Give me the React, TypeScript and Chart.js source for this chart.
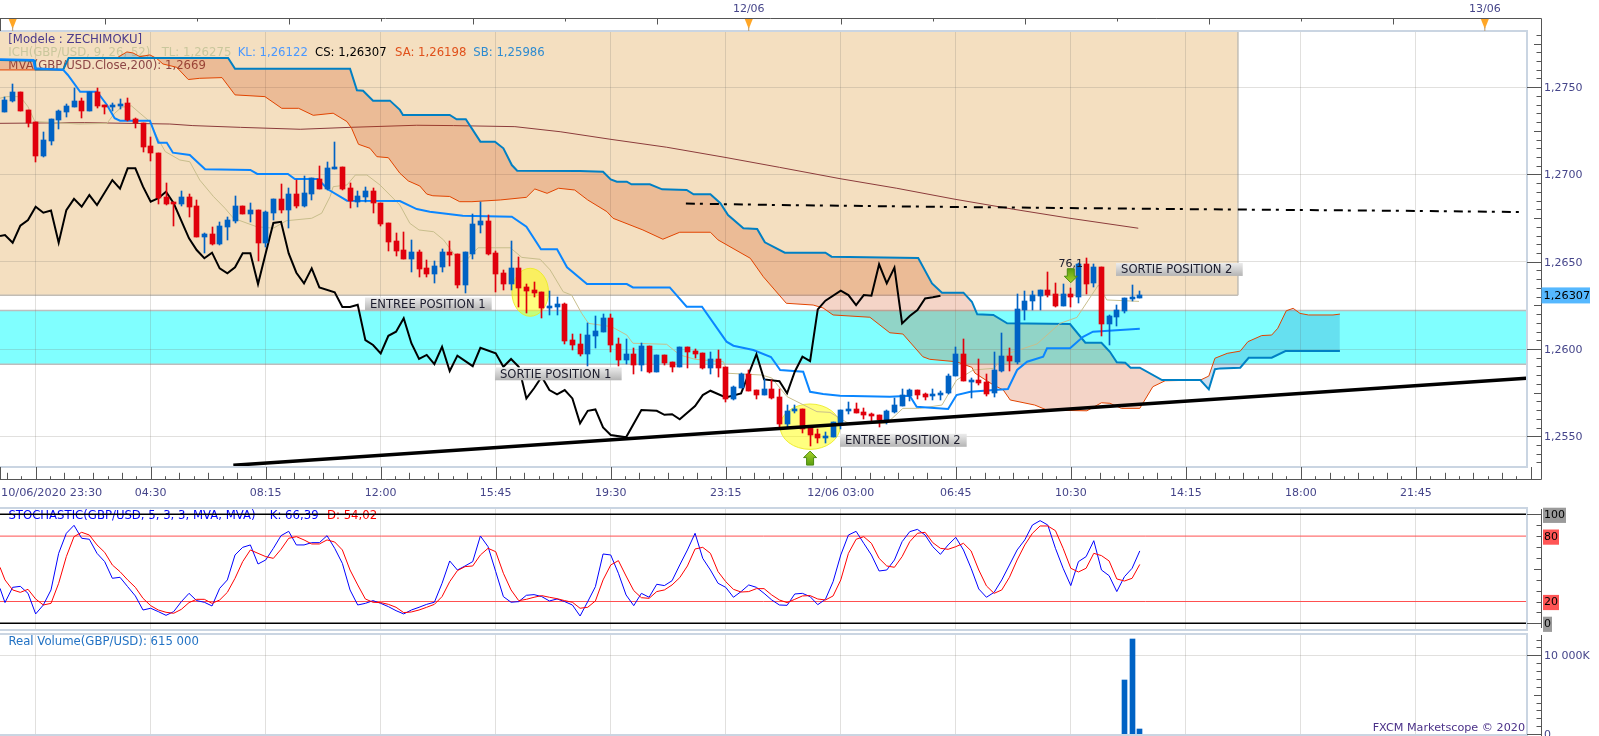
import React, { useEffect, useRef } from 'react';
import { Chart, registerables } from 'chart.js';
Chart.register(...registerables);

const FONT = '"DejaVu Sans"';
const AXIS_COLOR = '#45458a';
const BLUE = '#0062c4';
const RED = '#e0000c';

const opens = [1.2736,1.27421,1.27471,1.2737,1.27299,1.27106,1.27194,1.27312,1.27358,1.27385,1.27421,1.27364,1.27475,1.27396,1.27389,1.27396,1.27408,1.27316,1.27293,1.27163,1.27121,1.26873,1.26841,1.26833,1.26871,1.2682,1.26644,1.26657,1.26602,1.26699,1.26732,1.26822,1.26774,1.26797,1.2661,1.26781,1.26858,1.26797,1.26886,1.2682,1.26888,1.26974,1.26915,1.27034,1.27043,1.26921,1.26844,1.26873,1.26906,1.26835,1.2672,1.26621,1.26568,1.26516,1.26558,1.26463,1.2643,1.2647,1.26553,1.26545,1.26367,1.26545,1.26713,1.26734,1.26549,1.26436,1.26373,1.26463,1.26356,1.26339,1.26327,1.26236,1.26243,1.26258,1.26052,1.26029,1.25972,1.26075,1.26098,1.26178,1.26031,1.25938,1.25972,1.25909,1.2602,1.25871,1.25966,1.25926,1.25899,1.2601,1.25989,1.25978,1.25894,1.25943,1.25899,1.25716,1.25777,1.25857,1.25766,1.25737,1.2577,1.25724,1.25571,1.25645,1.25654,1.25555,1.25513,1.25492,1.25498,1.25578,1.25647,1.25654,1.25637,1.25628,1.25622,1.25593,1.25639,1.25675,1.25731,1.25763,1.25742,1.25729,1.25738,1.25746,1.25845,1.25971,1.25817,1.25823,1.25811,1.25746,1.25876,1.2596,1.25928,1.26224,1.26273,1.26306,1.26338,1.26315,1.26248,1.26315,1.263,1.26487,1.26376,1.26468,1.26145,1.26185,1.2622,1.26287,1.26294];
const closes = [1.27427,1.27471,1.27366,1.27293,1.27108,1.27198,1.27316,1.27364,1.27391,1.27421,1.27366,1.27475,1.27395,1.27391,1.27396,1.27406,1.27312,1.27293,1.2716,1.27121,1.26864,1.26831,1.26835,1.26871,1.26816,1.26644,1.26657,1.26602,1.26703,1.26739,1.2682,1.26774,1.26797,1.2661,1.26787,1.26858,1.26797,1.26888,1.2682,1.26896,1.26978,1.26917,1.27035,1.27045,1.26917,1.26848,1.26877,1.26906,1.26835,1.26716,1.26615,1.26564,1.26516,1.26558,1.26459,1.2643,1.26476,1.26553,1.26541,1.26365,1.26553,1.26717,1.26734,1.26545,1.2643,1.26373,1.26463,1.26352,1.26333,1.26322,1.26236,1.26247,1.26258,1.26046,1.26024,1.25972,1.26081,1.26104,1.2618,1.26024,1.25938,1.25972,1.25909,1.2602,1.25871,1.25966,1.2592,1.25897,1.26012,1.25985,1.25974,1.25894,1.25941,1.25894,1.25716,1.25781,1.25856,1.25762,1.25737,1.2577,1.2572,1.25571,1.25647,1.25659,1.25542,1.25509,1.2549,1.255,1.25584,1.25649,1.25654,1.25635,1.25622,1.2562,1.25593,1.25645,1.25679,1.25737,1.25765,1.25735,1.25727,1.25744,1.25746,1.25845,1.25971,1.25819,1.25823,1.25807,1.25742,1.2588,1.2596,1.25929,1.26227,1.26275,1.2631,1.26338,1.2631,1.26247,1.26315,1.263,1.26485,1.26373,1.26468,1.26145,1.26187,1.26224,1.2629,1.26296,1.26307];
const highs = [1.27446,1.27519,1.27471,1.2737,1.27299,1.27242,1.27316,1.2737,1.27404,1.27494,1.27437,1.27475,1.27494,1.27396,1.2741,1.27433,1.27437,1.27322,1.27293,1.27213,1.27121,1.2695,1.26841,1.26904,1.26888,1.26854,1.26667,1.26701,1.26726,1.26759,1.26877,1.26822,1.26835,1.26797,1.26793,1.26858,1.26946,1.26921,1.26969,1.26993,1.26978,1.27049,1.2707,1.27184,1.27045,1.2695,1.26906,1.2693,1.26921,1.26839,1.2672,1.26663,1.26673,1.26625,1.26568,1.26511,1.26505,1.26572,1.26619,1.26545,1.26553,1.26774,1.26841,1.26768,1.26562,1.26453,1.26619,1.26526,1.26371,1.26386,1.26329,1.26333,1.26297,1.26262,1.26087,1.26087,1.26148,1.2619,1.26199,1.26199,1.26062,1.26056,1.26004,1.26033,1.2602,1.25966,1.25966,1.25928,1.26012,1.26012,1.26001,1.2598,1.25983,1.25995,1.25899,1.25789,1.25861,1.2588,1.25766,1.25827,1.25823,1.2577,1.2568,1.2568,1.25654,1.25555,1.2554,1.25526,1.25584,1.25651,1.25695,1.25689,1.2566,1.25632,1.25622,1.25651,1.25721,1.25769,1.25769,1.25765,1.2575,1.25769,1.25761,1.25857,1.2601,1.26056,1.25832,1.25941,1.25855,1.25981,1.2609,1.26004,1.26313,1.26332,1.26334,1.26338,1.26443,1.26376,1.26371,1.26348,1.26491,1.2652,1.26487,1.26468,1.26195,1.26252,1.2629,1.26367,1.26332];
const lows = [1.2736,1.27417,1.27366,1.27274,1.27074,1.27098,1.27169,1.27261,1.27328,1.27385,1.27326,1.27362,1.27379,1.27347,1.27364,1.27377,1.27309,1.27267,1.27131,1.27079,1.26831,1.26825,1.26705,1.2682,1.26758,1.26644,1.26552,1.26596,1.26596,1.26625,1.26724,1.26774,1.2673,1.26506,1.26587,1.26739,1.26778,1.26692,1.26806,1.26816,1.26854,1.26915,1.26911,1.27034,1.26911,1.2681,1.26816,1.26844,1.26778,1.26705,1.26564,1.26535,1.26516,1.26444,1.26415,1.26415,1.26377,1.26444,1.26476,1.26348,1.26323,1.26516,1.26663,1.26539,1.26329,1.26339,1.26339,1.26239,1.26209,1.26297,1.2618,1.26195,1.26195,1.26029,1.25995,1.25962,1.25903,1.26008,1.26098,1.25985,1.25903,1.25915,1.25857,1.25876,1.25861,1.25871,1.25909,1.25871,1.25899,1.25894,1.25951,1.25886,1.25857,1.25842,1.25699,1.25708,1.25775,1.25762,1.25716,1.25737,1.25714,1.25546,1.25546,1.25632,1.25517,1.25444,1.2546,1.2546,1.25494,1.2554,1.25628,1.25632,1.25601,1.25574,1.25551,1.2557,1.25632,1.25674,1.25704,1.25712,1.25708,1.25708,1.25708,1.25742,1.25845,1.25819,1.25717,1.25794,1.25733,1.25723,1.2587,1.25876,1.25912,1.26166,1.26224,1.26224,1.263,1.26239,1.26248,1.26243,1.26262,1.26315,1.26357,1.26077,1.26023,1.26132,1.26205,1.26277,1.2629];

const senkouB = [[-0.65,1.27656],[3.9,1.27652],[4,1.27601],[7.6,1.27601],[8.3,1.27668],[29.1,1.27668],[30,1.27606],[45,1.27606],[45.9,1.27482],[46.7,1.2748],[48,1.27423],[50.2,1.27423],[51.5,1.2737],[51.9,1.27341],[58,1.27341],[58.9,1.27316],[60.1,1.27316],[62,1.27188],[63.9,1.27188],[65,1.2715],[66.1,1.27054],[66.8,1.27022],[75,1.2702],[78,1.27016],[79,1.26972],[79.8,1.26959],[81.1,1.26959],[81.7,1.26944],[84.1,1.26944],[85.7,1.26915],[88.9,1.26911],[89.8,1.26886],[92,1.26886],[93.3,1.26835],[94.3,1.26768],[96.3,1.26692],[98.1,1.26688],[99.1,1.26611],[101.7,1.26552],[107,1.26552],[107.8,1.26529],[119.1,1.26521],[120.9,1.26376],[122.2,1.26323],[125,1.26323],[126.1,1.26271],[126.8,1.26199],[128.9,1.26195],[130.7,1.26147],[138.9,1.26143],[140.9,1.26036],[143,1.26036],[144.1,1.25984],[145,1.25924],[146.1,1.25921],[146.8,1.25893],[148,1.25893],[150.9,1.25822],[155.9,1.25822],[157,1.25769],[157.8,1.25884],[158.5,1.25889],[161.1,1.25893],[162.2,1.2595],[165.2,1.2595],[167,1.25988],[174.1,1.25988]];
const senkouA = [[-0.65,1.27599],[7.6,1.27599],[8.3,1.27668],[14.6,1.27668],[15.9,1.27702],[16.7,1.27696],[17.6,1.27675],[18.9,1.27685],[19.8,1.27664],[20.6,1.27633],[22.4,1.27614],[23.9,1.27544],[25.4,1.27551],[28.3,1.27555],[30,1.27456],[33.9,1.27446],[36.1,1.27379],[38.3,1.27379],[40.2,1.27339],[42.8,1.27351],[44.6,1.27303],[45.2,1.27265],[46.1,1.27173],[47.6,1.2715],[48.5,1.27102],[50,1.27096],[51.5,1.27007],[52.6,1.26963],[54.1,1.26934],[55,1.26888],[55.8,1.26878],[58,1.26874],[59.3,1.26844],[60.9,1.26844],[64.6,1.26854],[68,1.26869],[69.1,1.26917],[70.7,1.26892],[72.2,1.26921],[74.3,1.26911],[76,1.26854],[78.5,1.26787],[79.3,1.26749],[83.2,1.26682],[85.8,1.26629],[88,1.26669],[92,1.26669],[93,1.26625],[97.2,1.2652],[98.9,1.26414],[101.9,1.26262],[105.4,1.26252],[106.7,1.26235],[108,1.26195],[112.8,1.26182],[115.4,1.26093],[117.1,1.26086],[119.7,1.25956],[120.6,1.25941],[124.1,1.25927],[126.1,1.25895],[126.5,1.25862],[128.9,1.25794],[130.2,1.25765],[131.1,1.25708],[134.3,1.25679],[135.9,1.2565],[141.1,1.25646],[143,1.25692],[144.1,1.25689],[145.6,1.2566],[148,1.2566],[149.7,1.25784],[151.3,1.25818],[155.9,1.25822],[157,1.25845],[157.8,1.25947],[159.4,1.25975],[161.1,1.25988],[162.1,1.26042],[163.9,1.26077],[165.2,1.2608],[166,1.26119],[167.1,1.26219],[168,1.26233],[168.9,1.26204],[170,1.26195],[173.2,1.26195],[174.1,1.262]];
const kijun = [[-0.65,1.2766],[3.7,1.27656],[3.9,1.27609],[7.6,1.27599],[8.2,1.2757],[9.8,1.27474],[12,1.27474],[13.3,1.27398],[14.3,1.27322],[15,1.27308],[18.9,1.27308],[20,1.27182],[21.1,1.27182],[21.9,1.27125],[24.1,1.27112],[26.1,1.2703],[32,1.27026],[32.9,1.27003],[36.9,1.27003],[37.8,1.26974],[40.8,1.26974],[42.1,1.26915],[44.6,1.2685],[51.5,1.26848],[53.7,1.26802],[55.4,1.26787],[59.7,1.26764],[66.1,1.26758],[68,1.26701],[69.9,1.26571],[72,1.26571],[73.3,1.26468],[75.9,1.26372],[81.1,1.26372],[81.9,1.26353],[86.7,1.26353],[88.9,1.26242],[90.9,1.26242],[94.1,1.26042],[95,1.26019],[97.6,1.25994],[99.9,1.25954],[101.1,1.2588],[104.1,1.2587],[105,1.25755],[106.7,1.25742],[108.9,1.25732],[115.4,1.25727],[118,1.25732],[118.9,1.25669],[123,1.25656],[124.1,1.25736],[125.9,1.25755],[130.8,1.25771],[132,1.2588],[133.3,1.25927],[135.4,1.25956],[135.9,1.26004],[138.9,1.26004],[140.6,1.2607],[141.9,1.26099],[148,1.26116]];
const chikou = [[-0.65,1.26647],[0,1.26653],[1,1.26609],[2,1.26707],[3,1.26739],[4,1.26815],[5,1.26781],[6,1.26793],[7,1.26609],[8,1.26796],[9,1.2686],[10,1.26815],[11,1.26882],[12,1.26825],[14,1.26968],[15,1.26919],[16,1.27035],[17,1.27035],[18,1.2693],[19,1.26844],[20,1.26864],[21,1.26901],[22,1.26835],[24,1.26634],[25,1.26567],[26,1.2652],[27,1.26552],[28,1.26462],[29,1.26434],[30,1.26468],[31,1.26548],[32,1.26548],[33,1.26372],[34,1.26548],[35,1.26722],[36,1.26729],[37,1.26548],[38,1.26437],[39,1.26376],[40,1.26462],[41,1.26353],[43,1.26325],[44,1.26241],[45,1.26241],[46,1.26254],[47,1.26051],[48,1.26023],[49,1.25975],[50,1.26076],[51,1.26099],[52,1.26176],[53,1.26033],[54,1.25943],[55,1.25966],[56,1.25914],[57,1.26013],[58,1.25874],[59,1.25962],[61,1.25902],[62,1.26007],[64,1.25975],[65,1.25898],[66,1.25943],[67,1.25898],[68,1.25717],[69,1.25775],[70,1.25841],[71,1.25765],[72,1.2574],[73,1.25765],[74,1.25717],[75,1.25574],[76,1.25646],[77,1.25654],[78,1.25551],[79,1.25507],[81,1.25494],[83,1.2565],[85,1.25646],[86,1.25623],[87,1.25626],[88,1.25597],[90,1.25673],[91,1.25736],[92,1.25761],[94,1.25723],[96,1.25746],[98,1.2597],[99,1.25826],[101,1.25815],[102,1.25746],[103,1.2587],[104,1.25956],[105,1.25931],[106,1.26227],[107,1.26277],[109,1.26334],[110,1.26309],[111,1.26252],[112,1.26309],[113,1.26305],[114,1.26485],[115,1.26376],[116,1.26466],[117,1.26147],[118,1.26189],[119,1.26223],[120,1.2629],[121,1.26296],[122,1.26305]];
const tenkan = [[-0.65,1.27437],[0.2,1.27446],[2,1.27446],[3,1.27388],[3.9,1.27303],[5.9,1.27299],[9.6,1.27289],[13.3,1.27293],[14.3,1.27351],[15.2,1.27385],[16.5,1.27393],[17.6,1.27351],[18.9,1.27303],[19.8,1.27217],[20.9,1.27131],[22.8,1.27083],[24.1,1.27073],[25.4,1.26968],[27.2,1.26873],[28.7,1.26806],[29.8,1.26749],[32.8,1.26701],[35,1.26692],[36.7,1.26735],[40,1.26749],[41.3,1.26778],[42.4,1.26873],[42.8,1.2693],[44.6,1.2694],[45.7,1.26997],[47.2,1.26997],[48.9,1.2694],[51.5,1.26825],[52.8,1.2672],[54,1.26682],[55.9,1.26672],[57.2,1.26625],[59.3,1.265],[60.2,1.2651],[61.7,1.2658],[65.9,1.2658],[67.4,1.26525],[69.8,1.26514],[71.1,1.26453],[72.8,1.26328],[73.9,1.26309],[75.2,1.26205],[76.1,1.26147],[79.1,1.26128],[81.1,1.2608],[81.9,1.26033],[86.3,1.26027],[88,1.25966],[90,1.25941],[93.7,1.25927],[94.3,1.25861],[98.7,1.25851],[100,1.25834],[102,1.25727],[105.9,1.25641],[107.6,1.25637],[110,1.25574],[115,1.25574],[117.1,1.2566],[119.3,1.2566],[122.2,1.25679],[124.1,1.25822],[126.3,1.2588],[128.9,1.25889],[130.9,1.25975],[134.6,1.26029],[135.9,1.2608],[137.6,1.26147],[139.8,1.26181],[142.6,1.26367],[143.7,1.26281],[147.9,1.26273]];
const ma200 = [[-0.65,1.27293],[10.4,1.27297],[21.5,1.27289],[24.5,1.2728],[30.7,1.2727],[38.5,1.27259],[45,1.2727],[53.7,1.27282],[58.5,1.2728],[66.5,1.27274],[72.4,1.27245],[78.9,1.27202],[86.3,1.27156],[93.9,1.27098],[101,1.27041],[108.9,1.26976],[116.3,1.26921],[123.9,1.26858],[131.5,1.26801],[138.9,1.26749],[147.8,1.26692]];
const trendLine = [[29.78,1.25334],[198.4,1.25832]];
const resistanceLine = [[88.8,1.26833],[101,1.26825],[121,1.26815],[152.6,1.26802],[184.6,1.26791],[197.6,1.26785]];

const stochK = [32.1,19,33,33.9,27.5,8.6,16.8,30.6,64.2,82.6,89.9,78,77.1,64.2,56.6,41.3,42.2,33.6,25.1,12.2,13.8,10.7,7.3,10.7,19.9,27.5,20.8,19.3,15.9,32.1,39.8,62.7,69.7,71.9,54.4,58.1,68.8,80.4,84.4,71.9,71.9,74,74,80.4,68.8,55,30.6,16.8,18.3,20.8,18.3,15.3,11.6,8.6,12.2,14.7,17.4,19.3,36.7,57.2,48.9,52.6,56.6,80.1,70.3,47.4,24.5,19.3,19.9,25.7,26.3,24.5,20.5,22.3,19.9,16.8,6.7,19.9,33.6,63.6,62.7,45.9,26,16.2,27.5,23.9,35.8,34.6,39.1,53.5,67.3,82.6,59.6,48.9,36.7,33,23.9,29.1,35.2,33,27.5,21.4,16.8,16.5,26.9,27.5,24.5,17.1,22,38.2,62.7,81,84.4,73.4,62.7,48,48.9,58.1,74.9,84.1,86.2,81,70.3,63.3,71.9,78.9,67.3,50.5,31.5,23.9,28.4,39.8,53.5,67.3,76.5,90.2,94.2,90.2,68.8,50.5,34.6,56.6,61.2,75.8,48.9,43.7,29.1,42.8,50.5,66.39];
const stochD = [51.4,39.8,30.6,28.4,31.2,22.3,16.8,18.3,36.7,61.2,79.5,83.5,81,71.9,65.1,53.5,47.4,39.8,33,22.9,16.2,12.2,10.1,9.2,12.8,19,22,22,18.3,21.4,28.4,41.3,56.6,67.3,64.2,61.2,59.6,67.9,78,79.5,76.5,72.8,72.8,76.5,74.6,67.3,48.9,35.2,22.3,19.3,19,17.4,14.7,9.8,10.4,12.2,14.7,17.4,24.5,38.2,48.3,52,52.6,62.7,68.8,65.7,45.9,30.6,20.8,22,23.9,25.4,23.9,22.6,20.8,19.3,13.8,14.7,20.5,39.8,53.5,57.5,43.4,30,23.5,22.9,29.1,30.6,35.2,41.9,52.6,68.2,69.7,64.2,47.4,38.2,31.2,28.7,29.1,31.8,31.8,26,21.4,19,22,25.1,25.4,22.3,21.4,25.1,39.8,64.2,77.1,79.5,73.4,59.6,52.6,51.4,61.2,74.9,82.6,83.5,74,68.8,67.9,70.3,73.4,66.4,48.9,34.3,27.5,30.6,42.2,58.1,71.9,82.6,89.3,89.3,85,68.8,50.5,47.1,50.5,64.2,62.1,57.2,40.7,38.8,41.3,54.02];
const stochLevels = [100, 80, 20, 0];

const volumeBars = [146, 147, 148];
const volumeValues = [6860000, 12070000, 615000];

const xTicks = [4,19,34,49,64,79,94,109,124,139,154,169,184];
const xLabels = ['','04:30','08:15','12:00','15:45','19:30','23:15','12/06 03:00','06:45','10:30','14:15','18:00','21:45'];
const firstXLabel = '10/06/2020 23:30';
const yTicks = [1.275,1.27,1.265,1.26,1.255];
const dateMarkers = [[1,''],[97,'12/06'],[193,'13/06']];

const beigeZone = { top: 1.27822, bottom: 1.26308, rightIdx: 160.8 };
const cyanZone = { top: 1.2622, bottom: 1.25913 };
const ellipses = [[68.5,1.26325,18.3,24],[105,1.25555,30,22.7]];
const positionLabels = [['ENTREE POSITION 1',46.95,1.26258],['SORTIE POSITION 1',63.9,1.25858],['ENTREE POSITION 2',108.9,1.25477],['SORTIE POSITION 2',144.9,1.26456]];
const arrowUp = [105,1.25375];
const arrowDown = [139,1.2642];
const fibLabel = ['76,1',139,1.26487];
const lastClose = 1.26307;

const X_MIN = -0.652;
const X_MAX = 198.5;
const LEGEND_SIZE = 11.7;
const comma = (v: number) => v.toFixed(4).replace('.', ',');
const pts = (a: number[][]) => a.map(([x, y]) => ({ x, y }));
const series = (a: number[]) => a.map((y, i) => ({ x: i === 0 ? X_MIN : i - 1, y }));

const crispBars = {
  id: 'crispBars',
  afterDatasetsUpdate(chart: any) {
    chart.data.datasets.forEach((ds: any, i: number) => {
      if (ds.type !== 'bar') return;
      chart.getDatasetMeta(i).data.forEach((el: any) => {
        el.x = Math.floor(el.x) + 0.5;
        el.y = Math.round(el.y);
        el.base = Math.round(el.base);
        if (ds.barThickness > 1 && el.base - el.y < 2) el.base = el.y + 2;
      });
    });
  },
};

const line = (c: any, x1: number, y1: number, x2: number, y2: number, color: string, w = 1) => {
  c.strokeStyle = color; c.lineWidth = w; c.beginPath(); c.moveTo(x1, y1); c.lineTo(x2, y2); c.stroke();
};
const text = (c: any, s: string, x: number, y: number, color: string, size = 11, align = 'left') => {
  c.fillStyle = color; c.font = `${size}px ${FONT}`; c.textAlign = align; c.textBaseline = 'middle'; c.fillText(s, x, y);
};

const panelFrame = (drawRight: (c: any, chart: any) => void) => ({
  id: 'panelFrame',
  afterDraw(chart: any) {
    const c = chart.ctx; const a = chart.chartArea;
    c.save();
    c.strokeStyle = '#cad5e2'; c.lineWidth = 2;
    c.beginPath(); c.moveTo(0, a.top); c.lineTo(a.right, a.top); c.lineTo(a.right, a.bottom); c.lineTo(0, a.bottom); c.stroke();
    drawRight(c, chart);
    c.restore();
  },
});

const arrow = (c: any, x: number, y: number, dir: number) => {
  const g = c.createLinearGradient(0, y - 7, 0, y + 7);
  g.addColorStop(0, dir < 0 ? '#a8d428' : '#5a9e10');
  g.addColorStop(1, dir < 0 ? '#5a9e10' : '#a8d428');
  c.fillStyle = g; c.strokeStyle = '#4d8a12'; c.lineWidth = 1;
  c.beginPath();
  c.moveTo(x, y + dir * 7);
  c.lineTo(x + 6.5, y + dir * 0.5);
  c.lineTo(x + 3.5, y + dir * 0.5);
  c.lineTo(x + 3.5, y - dir * 7);
  c.lineTo(x - 3.5, y - dir * 7);
  c.lineTo(x - 3.5, y + dir * 0.5);
  c.lineTo(x - 6.5, y + dir * 0.5);
  c.closePath(); c.fill(); c.stroke();
};

const zonesPlugin = {
  id: 'zones',
  beforeDraw(chart: any) {
    const c = chart.ctx; const a = chart.chartArea; const { x, y } = chart.scales;
    c.save();
    const bT = y.getPixelForValue(beigeZone.top), bB = y.getPixelForValue(beigeZone.bottom), bR = x.getPixelForValue(beigeZone.rightIdx);
    c.fillStyle = '#f4dfc0'; c.fillRect(0, bT, bR, bB - bT);
    line(c, 0, bB, bR, bB, '#c2bdb5', 1.5); line(c, bR, bT, bR, bB, '#c2bdb5', 1.5);
    const cT = y.getPixelForValue(cyanZone.top), cB = y.getPixelForValue(cyanZone.bottom);
    c.fillStyle = '#80ffff'; c.fillRect(0, cT, a.right, cB - cT);
    line(c, 0, cT, a.right, cT, '#bdbdbd', 1.5); line(c, 0, cB, a.right, cB, '#bdbdbd', 1.5);
    c.restore();
  },
  beforeDatasetsDraw(chart: any) {
    const c = chart.ctx; const { x, y } = chart.scales;
    c.save();
    ellipses.forEach(([ix, p, rx, ry]) => {
      c.beginPath(); c.ellipse(x.getPixelForValue(ix), y.getPixelForValue(p), rx, ry, 0, 0, Math.PI * 2);
      c.fillStyle = 'rgba(255,255,0,0.5)'; c.fill();
      c.strokeStyle = 'rgba(235,235,40,0.9)'; c.lineWidth = 1; c.stroke();
    });
    text(c, '[Modele : ZECHIMOKU]', 8.3, 39.5, '#4b3b8c', LEGEND_SIZE);
    text(c, 'ICH(GBP/USD, 9, 26, 52)', 8.3, 52.5, '#c9c79c', LEGEND_SIZE);
    text(c, 'TL: 1,26275', 161.7, 52.5, '#c9c79c', LEGEND_SIZE);
    text(c, 'KL: 1,26122', 237.7, 52.5, '#4a98ff', LEGEND_SIZE);
    text(c, 'CS: 1,26307', 315, 52.5, '#000000', LEGEND_SIZE);
    text(c, 'SA: 1,26198', 395, 52.5, '#e0501a', LEGEND_SIZE);
    text(c, 'SB: 1,25986', 473.3, 52.5, '#2e8bd0', LEGEND_SIZE);
    text(c, 'MVA(GBP/USD.Close,200): 1,2669', 8.3, 65.5, '#8c4646', LEGEND_SIZE);
    c.restore();
  },
  afterDatasetsDraw(chart: any) {
    const c = chart.ctx; const { x, y } = chart.scales;
    c.save();
    positionLabels.forEach(([s, ix, p]: any) => {
      const left = x.getPixelForValue(ix); const cy = y.getPixelForValue(p);
      const g = c.createLinearGradient(0, cy - 6.5, 0, cy + 6.5);
      g.addColorStop(0, '#ececec'); g.addColorStop(1, '#b4b4b4');
      c.fillStyle = g; c.fillRect(left, cy - 6.5, 126.7, 13);
      text(c, s, left + 5, cy + 1, '#1c1c2c', 11.6);
    });
    arrow(c, x.getPixelForValue(arrowUp[0]), y.getPixelForValue(arrowUp[1]), -1);
    arrow(c, x.getPixelForValue(arrowDown[0]), y.getPixelForValue(arrowDown[1]), 1);
    text(c, fibLabel[0] as string, x.getPixelForValue(fibLabel[1]), y.getPixelForValue(fibLabel[2]), '#1c1c2c', 11, 'center');
    c.restore();
  },
};

const mainFrame = panelFrame((c, chart) => {
  const { x, y } = chart.scales;
  const R = 1541.5, D = '#555555';
  line(c, 0, 18.5, R, 18.5, D); line(c, R, 18.5, R, 479.5, D); line(c, 0, 479.5, R, 479.5, D); line(c, 0.5, 18.5, 0.5, 31, D); line(c, 0.5, 467, 0.5, 479.5, D);
  for (let i = 1, k = 0; i < X_MAX + 1; i += 12, k++) {
    const px = Math.round(x.getPixelForValue(i)) + 0.5;
    line(c, px, 18.5, px, 18.5 + (k % 2 === 0 ? 3 : 6), D);
  }
  for (let k = -2; k <= 104; k++) {
    const ix = 4 + k * 1.875; if (ix > 199.1) break;
    const px = Math.round(x.getPixelForValue(ix)) + 0.5;
    const len = k % 8 === 0 ? 12.5 : k % 2 === 0 ? 6.7 : 3.3;
    line(c, px, 479.5 - len, px, 479.5, D);
  }
  for (let n = 0; n * 0.0005 + 1.2535 < 1.2782; n++) {
    const v = 1.2535 + n * 0.0005; const py = Math.round(y.getPixelForValue(v)) + 0.5;
    const len = n % 10 === 3 ? 14.5 : n % 5 === 3 ? 7.5 : 5;
    line(c, R - len, py, R, py, D);
  }
  dateMarkers.forEach(([ix, s]: any) => {
    const px = x.getPixelForValue(ix);
    c.fillStyle = '#ffa626'; c.beginPath(); c.moveTo(px - 4, 19); c.lineTo(px + 4, 19); c.lineTo(px, 29); c.closePath(); c.fill();
    line(c, px, 27, px, 31, '#b89a70');
    if (s) text(c, s, px, 9, AXIS_COLOR, 11, 'center');
  });
  text(c, firstXLabel, 1, 493, AXIS_COLOR, 11.3);
  const py = y.getPixelForValue(lastClose);
  c.fillStyle = '#55b8ff'; c.fillRect(R, py - 8, 48.5, 16);
  text(c, '1,26307', R + 2, py + 0.5, '#000000', 11.3);
});

const stochFrame = panelFrame((c, chart) => {
  const { y } = chart.scales; const R = 1541.5, D = '#555555';
  line(c, R, 3, R, 122, D);
  for (let v = 0; v <= 100; v += 10) {
    const py = Math.round(y.getPixelForValue(v)) + 0.5;
    const len = v === 0 || v === 100 ? 14.5 : v === 50 ? 7.5 : 5;
    line(c, R - len, py, R, py, D);
  }
});
const stochLegend = {
  id: 'stochLegend',
  beforeDatasetsDraw(chart: any) {
    const c = chart.ctx;
    c.save();
    text(c, 'STOCHASTIC(GBP/USD, 5, 3, 3, MVA, MVA)', 8.4, 9.5, '#0000ff', LEGEND_SIZE);
    text(c, 'K: 66,39', 269.8, 9.5, '#0000ff', LEGEND_SIZE);
    text(c, 'D: 54,02', 327, 9.5, '#ff0000', LEGEND_SIZE);
    c.restore();
  },
};

const volFrame = panelFrame((c, chart) => {
  const { y } = chart.scales; const R = 1541.5, D = '#555555';
  line(c, R, 3, R, 104, D);
  for (let v = 0; v <= 12000000; v += 1000000) {
    const py = Math.round(y.getPixelForValue(v)) + 0.5;
    const len = v === 10000000 || v === 0 ? 14.5 : v === 5000000 ? 7.5 : 5;
    line(c, R - len, py, R, py, D);
  }
  text(c, 'Real Volume(GBP/USD): 615 000', 8.4, 9.5, '#2272c4', LEGEND_SIZE);
  text(c, 'FXCM Marketscope \u00a9 2020', 1525, 96.5, '#4a3088', 11.2, 'right');
});

const gridColor = 'rgba(120,112,104,0.22)';
const xScale = (labels: boolean, height?: number) => ({
  type: 'linear', min: X_MIN, max: X_MAX, offset: false,
  grid: { color: gridColor, lineWidth: 1, drawTicks: false, offset: false },
  border: { display: false },
  afterBuildTicks: (s: any) => { s.ticks = xTicks.map((value) => ({ value })); },
  afterFit: (s: any) => { s.height = height ?? 0; s.paddingLeft = 0; s.paddingRight = 0; },
  ticks: {
    display: labels, autoSkip: false, maxRotation: 0, padding: 20, color: AXIS_COLOR,
    font: { family: FONT, size: 11 },
    callback: (_: any, i: number) => xLabels[i],
  },
});
const yScale = (min: number, max: number, ticks: number[], fmt: (v: number) => string, grid: boolean, extra: any = {}) => ({
  position: 'right', min, max,
  grid: { display: grid, color: gridColor, lineWidth: 1, drawTicks: false },
  border: { display: false },
  afterBuildTicks: (s: any) => { s.ticks = ticks.map((value) => ({ value })); },
  afterFit: (s: any) => { s.width = 72; s.paddingTop = 0; s.paddingBottom = 0; },
  ticks: { autoSkip: false, padding: 17, labelOffset: 1, color: AXIS_COLOR, font: { family: FONT, size: 11 }, callback: (v: number) => fmt(v), ...extra },
});
const baseOptions = {
  responsive: false, animation: false, devicePixelRatio: 1, events: [],
  plugins: { legend: { display: false }, tooltip: { enabled: false } },
};
const lineDs = (data: number[][], color: string, width: number, order: number, extra: any = {}) => ({
  type: 'line', data: pts(data), borderColor: color, borderWidth: width, pointRadius: 0, tension: 0, order, fill: false, ...extra,
});

export default function App() {
  const mainRef = useRef<HTMLCanvasElement>(null);
  const stochRef = useRef<HTMLCanvasElement>(null);
  const volRef = useRef<HTMLCanvasElement>(null);

  useEffect(() => {
    const candleColor = closes.map((c, i) => (c >= opens[i] ? BLUE : RED));
    const main = new Chart(mainRef.current as any, {
      type: 'bar',
      data: {
        datasets: [
          lineDs(senkouB, '#0080c4', 2, 7),
          lineDs(senkouA, '#e24400', 1, 8, { fill: { target: 0, above: 'rgba(0,100,180,0.2)', below: 'rgba(205,60,0,0.22)' } }),
          lineDs(kijun, '#0a86ff', 2, 5),
          lineDs(tenkan, '#c8be8c', 1, 6),
          lineDs(chikou, '#000000', 2, 4),
          lineDs(ma200, '#8c3c3c', 1, 9),
          lineDs(trendLine, '#000000', 3.5, 0),
          lineDs(resistanceLine, '#000000', 2, 0, { borderDash: [9, 5, 3, 7] }),
          { type: 'bar', data: highs.map((h, i) => ({ x: i, y: [lows[i], h] })), backgroundColor: candleColor, barThickness: 1, grouped: false, order: 3 },
          { type: 'bar', data: opens.map((o, i) => ({ x: i, y: [Math.min(o, closes[i]), Math.max(o, closes[i])] })), backgroundColor: candleColor, barThickness: 5, grouped: false, order: 2 },
        ],
      },
      options: {
        ...baseOptions,
        layout: { padding: { top: 31, left: 0, right: 0, bottom: 0 } },
        scales: { x: xScale(true, 39), y: yScale(1.25324, 1.27822, yTicks, comma, true) },
      },
      plugins: [crispBars, zonesPlugin, mainFrame],
    } as any);

    const levelDs = stochLevels.map((v) => ({
      type: 'line', data: [{ x: X_MIN, y: v }, { x: X_MAX, y: v }], borderColor: v === 100 || v === 0 ? '#000000' : '#ff5050',
      borderWidth: v === 100 || v === 0 ? 1.5 : 1, pointRadius: 0, order: 5,
    }));
    const stochTag = (v: number) => (v === 100 || v === 0 ? '#9a9a9a' : '#ff5555');
    const stoch = new Chart(stochRef.current as any, {
      type: 'line',
      data: {
        datasets: [
          { data: series(stochD), borderColor: '#ff0000', borderWidth: 1, pointRadius: 0, tension: 0, order: 1 },
          { data: series(stochK), borderColor: '#0000ff', borderWidth: 1, pointRadius: 0, tension: 0, order: 2 },
          ...levelDs,
        ],
      },
      options: {
        ...baseOptions,
        layout: { padding: { top: 2, bottom: 2 } },
        scales: {
          x: xScale(false),
          y: yScale(-6.15, 105.8, stochLevels, (v) => String(v), false, {
            color: '#000000', showLabelBackdrop: true, backdropPadding: 1,
            backdropColor: (ctx: any) => stochTag(ctx.tick.value),
          }),
        },
      },
      plugins: [stochLegend, stochFrame],
    } as any);

    const vol = new Chart(volRef.current as any, {
      type: 'bar',
      data: {
        datasets: [{
          type: 'bar', data: volumeBars.map((x, i) => ({ x, y: volumeValues[i] })),
          backgroundColor: BLUE, barThickness: 5, grouped: false,
        }],
      },
      options: {
        ...baseOptions,
        layout: { padding: { top: 2, bottom: 1 } },
        scales: {
          x: xScale(false),
          y: yScale(-127000, 12706000, [10000000, 0], (v) => (v === 0 ? '0' : '10 000K'), true),
        },
      },
      plugins: [crispBars, volFrame],
    } as any);

    return () => { main.destroy(); stoch.destroy(); vol.destroy(); };
  }, []);

  const abs = (top: number): React.CSSProperties => ({ position: 'absolute', left: 0, top, display: 'block' });
  return (
    <div style={{ position: 'absolute', left: 0, top: 0, width: 1599, height: 736, overflow: 'hidden', background: '#fff' }}>
      <canvas ref={mainRef} width={1599} height={506} style={abs(0)} />
      <canvas ref={stochRef} width={1599} height={126} style={abs(506)} />
      <canvas ref={volRef} width={1599} height={104} style={abs(632)} />
    </div>
  );
}
